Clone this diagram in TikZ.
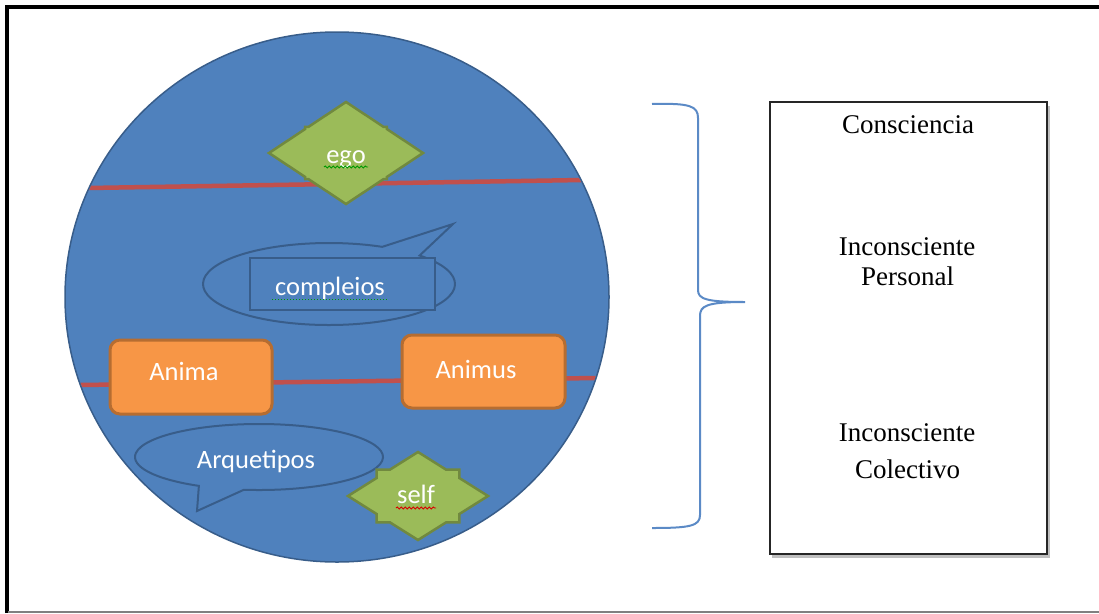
\documentclass[tikz,border=0pt]{standalone}
\usepackage{fontspec}
\setmainfont{Liberation Serif}
\newfontfamily\calfont{Carlito}
\usetikzlibrary{calc,decorations.pathmorphing}
\definecolor{bgblue}{HTML}{4F81BD}
\definecolor{edgeblue}{HTML}{385D8A}
\definecolor{redline}{HTML}{C0504D}
\definecolor{greenfill}{HTML}{9BBB59}
\definecolor{greenedge}{HTML}{71893F}
\definecolor{orangefill}{HTML}{F79646}
\definecolor{orangeedge}{HTML}{B66D31}
\definecolor{bracecol}{HTML}{5B8AC6}
\begin{document}
\begin{tikzpicture}[x=1pt,y=-1pt,
  whitetxt/.style={text=white, font=\calfont\fontsize{26.5}{30}\selectfont, inner sep=0pt, anchor=base},
  seriftxt/.style={text=black, font=\fontsize{27}{32}\selectfont, inner sep=0pt, anchor=base},
  bubble/.style={fill=bgblue, draw=edgeblue, line width=2pt},
  starbox/.style={fill=greenfill, draw=greenedge, line width=2.5pt, line join=miter},
  orangebox/.style={fill=orangefill, draw=orangeedge, line width=3pt, rounded corners=10pt, inner sep=0pt},
  redstroke/.style={draw=redline, line width=4.5pt},
  squiggle/.style={line width=0.9pt, decorate, decoration={snake, amplitude=1pt, segment length=4pt}}]
\useasboundingbox (0,0) rectangle (1099,613);
% outer frame
\draw[black, line width=4pt] (7,613) -- (7,7) -- (1099,7);
\draw[black!50, line width=2pt] (8,611.5) -- (1099,611.5);

% big circle
\draw[fill=bgblue, draw=edgeblue, line width=1.5pt] (337,297) ellipse [x radius=272, y radius=265];
\begin{scope}
  \clip (337,297) ellipse [x radius=271, y radius=264];
  \draw[redstroke] (60,188.45) -- (610,179.56);
  \draw[redstroke] (60,385.27) -- (615,377.76);
\end{scope}

% compleios callout
\draw[bubble] ($(329,284)+(-44:126 and 41)$) arc[start angle=-44, end angle=295, x radius=126, y radius=41] -- (453,224) -- cycle;
\node[draw=edgeblue, fill=bgblue, line width=2pt, minimum width=185, minimum height=52, inner sep=0pt] (compbox) at (342.5,284) {};
\node[whitetxt] (compleios) at (330,295) {compleios};
\draw[green!60!black, line width=1pt, dotted] (272,299) -- (388,299);

% ego star
\begin{scope}[shift={(346,153)}, x=77pt, y=-51pt]
  \draw[starbox] (1,0) -- (0.53,0.47) -- (0.53,0.51) -- (0.49,0.51) -- (0,1) -- (-0.49,0.51) -- (-0.53,0.51) -- (-0.53,0.47) -- (-1,0) -- (-0.53,-0.47) -- (-0.53,-0.51) -- (-0.49,-0.51) -- (0,-1) -- (0.49,-0.51) -- (0.53,-0.51) -- (0.53,-0.47) -- cycle;
\end{scope}
\node[whitetxt] (ego) at (346,163) {ego};
\draw[green!60!black, squiggle] (324,167) -- (368,167);

% Anima / Animus
\node[orangebox, minimum width=162, minimum height=74] (animabox) at (191,377) {};
\node[whitetxt] (anima) at (184,380) {Anima};
\node[orangebox, minimum width=163, minimum height=73] (animusbox) at (483.5,371.5) {};
\node[whitetxt] (animus) at (476,378) {Animus};

% Arquetipos callout
\draw[bubble] ($(259,457)+(97:124 and 33)$) arc[start angle=97, end angle=-241, x radius=124, y radius=33] -- (197,511) -- cycle;
\node[whitetxt] (arquetipos) at (256,468) {Arquetipos};

% self star
\begin{scope}[shift={(418,496)}, x=70pt, y=-44pt]
  \draw[starbox] (1,0) -- (0.59,0.41) -- (0.59,0.6) -- (0.4,0.6) -- (0,1) -- (-0.4,0.6) -- (-0.59,0.6) -- (-0.59,0.41) -- (-1,0) -- (-0.59,-0.41) -- (-0.59,-0.6) -- (-0.4,-0.6) -- (0,-1) -- (0.4,-0.6) -- (0.59,-0.6) -- (0.59,-0.41) -- cycle;
\end{scope}
\node[whitetxt] (self) at (416,503) {self};
\draw[red!85!black, squiggle] (396,508) -- (436,508);

% brace
\draw[bracecol, line width=2pt] (652,104) .. controls (690,103) and (698,106) .. (698,118) -- (698,290)
  .. controls (698,299) and (706,302) .. (745,302)
  .. controls (706,302) and (700,306) .. (700,316) -- (700,515)
  .. controls (700,526) and (690,528) .. (652,528);

% right box
\fill[black!25] (772,106) rectangle (1050,558);
\node[draw=black!85, line width=2pt, fill=white, minimum width=277, minimum height=452, inner sep=0pt] (layers) at (908.5,328) {};
\node[seriftxt] (consciencia) at (908,133) {Consciencia};
\node[seriftxt] (incons1) at (907,255) {Inconsciente};
\node[seriftxt] (personal) at (907.5,285) {Personal};
\node[seriftxt] (incons2) at (907,441) {Inconsciente};
\node[seriftxt] (colectivo) at (907.5,478) {Colectivo};
\end{tikzpicture}
\end{document}
